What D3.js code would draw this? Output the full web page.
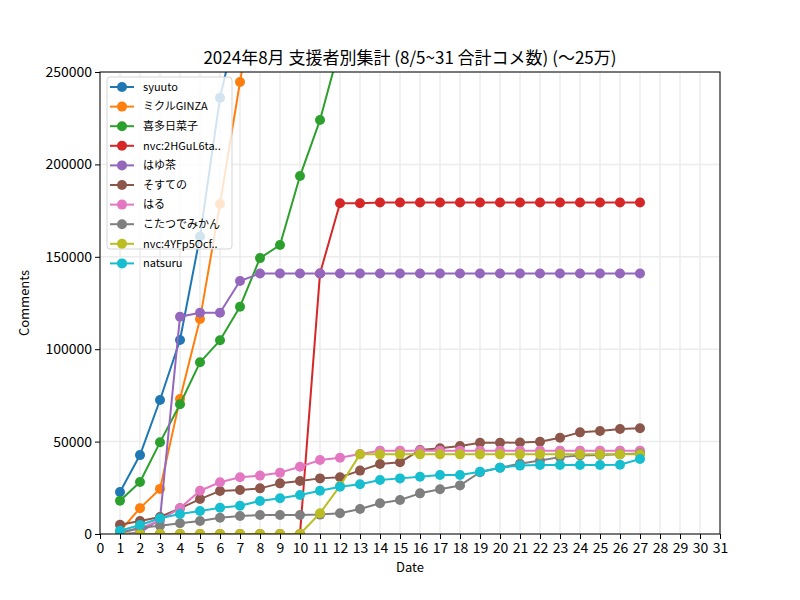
<!DOCTYPE html>
<html>
<head>
<meta charset="utf-8">
<script src="https://cdn.jsdelivr.net/npm/d3@7"></script>
<style>
  body { margin: 0; background: #fff; }
  svg { display: block; font-family: "Noto Sans CJK JP", "Noto Sans", sans-serif; }
</style>
</head>
<body>
<div id="chart"></div>
<script>
// Comment totals per supporter, August 2024 (day of month -> cumulative comments)
const days = d3.range(1, 28);

const seriesNames = [
  'syuuto', 'ミクルGINZA', '喜多日菜子', 'nvc:2HGuL6ta..', 'はゆ茶',
  'そすての', 'はる', 'こたつでみかん', 'nvc:4YFp5Ocf..', 'natsuru'
];

const syuuto = [22700, 42700, 72500, 105000, 161000, 236000, 283000];
const mikuru = [1500, 14000, 24400, 73000, 116300, 178600, 244600, 308000];
const kita = [18000, 28100, 49600, 70200, 92900, 104800, 123000, 149300, 156400,
  193700, 224000, 264000];
const nvc2h = [0, 0, 0, 0, 0, 0, 0, 0, 0, 0, 141000, 179000, 179000, 179400, 179400,
  179400, 179400, 179400, 179400, 179400, 179400, 179400, 179400, 179400, 179400, 179400, 179400];
const hayucha = [0, 700, 8000, 117600, 119700, 119700, 136900, 141000, 141000, 141000,
  141000, 141000, 141000, 141000, 141000, 141000, 141000, 141000, 141000, 141000,
  141000, 141000, 141000, 141000, 141000, 141000, 141000];
const sosuteno = [5000, 7000, 9200, 13900, 18900, 23300, 23800, 24700, 27400, 28700,
  30100, 30700, 34300, 37900, 38800, 45400, 46400, 47600, 49400, 49400, 49500, 49900,
  52100, 55000, 55700, 56800, 57200];
const haru = [1000, 3000, 7500, 14000, 23400, 28000, 30700, 31600, 33200, 36400, 40000,
  41300, 43300, 45100, 45100, 45100, 45100, 45100, 45100, 45100, 45100, 45100, 45100,
  45100, 45100, 45100, 45100];
const kotatsu = [500, 3400, 4500, 5800, 7000, 8800, 9700, 10300, 10300, 10300, 10500,
  11200, 13500, 16600, 18400, 22000, 24200, 26300, 33400, 35900, 38000, 39800, 41600,
  42500, 42800, 43100, 43600];
const nvc4y = [0, 0, 0, 0, 0, 0, 0, 0, 0, 0, 11200, 26000, 43100, 43100, 43100, 43100,
  43100, 43100, 43100, 43100, 43100, 43100, 43100, 43100, 43100, 43100, 43100];
const natsuru = [1800, 4900, 8500, 10800, 12400, 14200, 15300, 17900, 19300, 21100,
  23400, 25600, 26900, 29200, 30100, 31000, 31900, 31900, 33700, 35900, 37000, 37300,
  37300, 37300, 37300, 37500, 40600];

const seriesValues = [syuuto, mikuru, kita, nvc2h, hayucha, sosuteno, haru, kotatsu, nvc4y, natsuru];
const colors = ['#1f77b4', '#ff7f0e', '#2ca02c', '#d62728', '#9467bd',
  '#8c564b', '#e377c2', '#7f7f7f', '#bcbd22', '#17becf'];

const xTicks = d3.range(0, 32);
const yTicks = [0, 50000, 100000, 150000, 200000, 250000];

const width = 800, height = 600;
const margin = { top: 72, right: 80, bottom: 66, left: 100 };

const svg = d3.select('#chart').append('svg')
  .attr('width', width).attr('height', height);

const x = d3.scaleLinear().domain([0, 31]).range([margin.left, width - margin.right]);
const y = d3.scaleLinear().domain([0, 250000]).range([height - margin.bottom, margin.top]);

svg.append('defs').append('clipPath').attr('id', 'plot-clip')
  .append('rect')
  .attr('x', margin.left).attr('y', margin.top)
  .attr('width', width - margin.left - margin.right)
  .attr('height', height - margin.top - margin.bottom);

// grid
const grid = svg.append('g');
xTicks.forEach(t => {
  grid.append('line')
    .attr('x1', x(t)).attr('x2', x(t))
    .attr('y1', margin.top).attr('y2', height - margin.bottom)
    .attr('stroke', '#ececec').attr('stroke-width', 1.5);
});
yTicks.forEach(t => {
  grid.append('line')
    .attr('x1', margin.left).attr('x2', width - margin.right)
    .attr('y1', y(t)).attr('y2', y(t))
    .attr('stroke', '#ececec').attr('stroke-width', 1.5);
});

// series
const plot = svg.append('g').attr('clip-path', 'url(#plot-clip)');
const line = d3.line().x(d => x(d[0])).y(d => y(d[1]));

seriesValues.forEach((vals, i) => {
  const pts = vals.map((v, j) => [days[j], v]);
  const g = plot.append('g');
  g.append('path')
    .attr('d', line(pts))
    .attr('fill', 'none')
    .attr('stroke', colors[i]).attr('stroke-width', 2)
    .attr('stroke-linejoin', 'round');
  g.selectAll('circle').data(pts).join('circle')
    .attr('cx', d => x(d[0])).attr('cy', d => y(d[1]))
    .attr('r', 5)
    .attr('fill', colors[i]);
});

// axes
const xAxis = svg.append('g')
  .attr('transform', `translate(0,${height - margin.bottom})`)
  .call(d3.axisBottom(x).tickValues(xTicks).tickFormat(d3.format('d')).tickSizeOuter(0).tickSize(5));
const yAxis = svg.append('g')
  .attr('transform', `translate(${margin.left},0)`)
  .call(d3.axisLeft(y).tickValues(yTicks).tickFormat(d3.format('d')).tickSizeOuter(0).tickSize(5));

[xAxis, yAxis].forEach(a => {
  a.select('.domain').remove();
  a.selectAll('text').attr('font-size', 14).attr('fill', '#000')
    .attr('font-family', '"Noto Sans CJK JP", sans-serif');
  a.selectAll('line').attr('stroke', '#000').attr('stroke-width', 1);
});
xAxis.selectAll('text').attr('dy', '0.8em');

svg.append('rect')
  .attr('x', margin.left).attr('y', margin.top)
  .attr('width', width - margin.left - margin.right)
  .attr('height', height - margin.top - margin.bottom)
  .attr('fill', 'none').attr('stroke', '#000').attr('stroke-width', 1);

// labels
svg.append('text')
  .attr('x', (margin.left + width - margin.right) / 2).attr('y', 64)
  .attr('text-anchor', 'middle').attr('font-size', 17)
  .text('2024年8月 支援者別集計 (8/5~31 合計コメ数) (〜25万)');

svg.append('text')
  .attr('x', (margin.left + width - margin.right) / 2).attr('y', 572)
  .attr('text-anchor', 'middle').attr('font-size', 13)
  .text('Date');

svg.append('text')
  .attr('transform', `translate(29,${(margin.top + height - margin.bottom) / 2}) rotate(-90)`)
  .attr('text-anchor', 'middle').attr('font-size', 13)
  .text('Comments');

// legend
const legend = svg.append('g');
const lx = 107, ly = 77, rowH = 19.6;
legend.append('rect')
  .attr('x', lx).attr('y', ly)
  .attr('width', 125).attr('height', 172)
  .attr('rx', 3)
  .attr('fill', '#fff').attr('fill-opacity', 0.8)
  .attr('stroke', '#d5d5d5').attr('stroke-width', 1);

seriesNames.forEach((name, i) => {
  const cy = ly + 10 + i * rowH;
  legend.append('line')
    .attr('x1', lx + 3).attr('x2', lx + 27)
    .attr('y1', cy).attr('y2', cy)
    .attr('stroke', colors[i]).attr('stroke-width', 2);
  legend.append('circle')
    .attr('cx', lx + 15).attr('cy', cy).attr('r', 5)
    .attr('fill', colors[i]);
  legend.append('text')
    .attr('x', lx + 36).attr('y', cy).attr('dy', '0.35em')
    .attr('font-size', 11)
    .text(name);
});
</script>
</body>
</html>
